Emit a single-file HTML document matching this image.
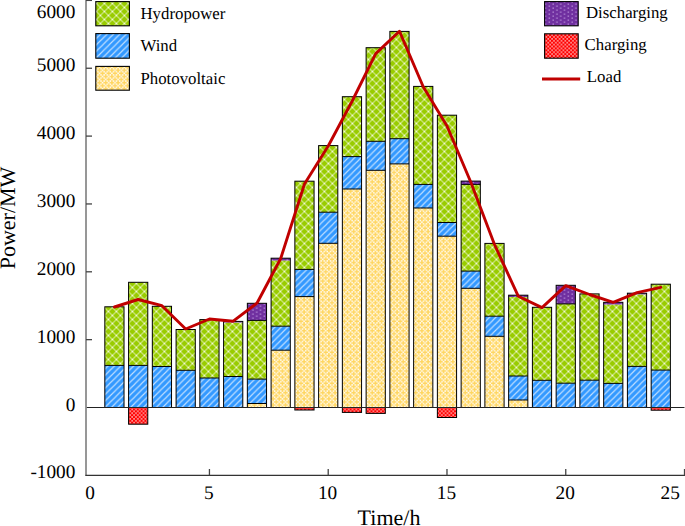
<!DOCTYPE html>
<html><head><meta charset="utf-8"><style>
html,body{margin:0;padding:0;background:#fff;}
svg{display:block;}
text{font-family:"Liberation Serif",serif;fill:#000;text-rendering:geometricPrecision;}
</style></head><body>
<svg width="685" height="526" viewBox="0 0 685 526" shape-rendering="auto">
<defs>
<pattern id="pH" width="8" height="8" patternUnits="userSpaceOnUse" x="4.4" y="7.5">
<rect width="8" height="8" fill="#99CC00"/>
<path d="M0 0L8 8M8 0L0 8" stroke="#F4FAE0" stroke-width="0.95" fill="none"/>
</pattern>
<pattern id="pW" width="6.4" height="6.4" patternUnits="userSpaceOnUse" x="0.4" y="0">
<rect width="6.4" height="6.4" fill="#3399FF"/>
<path d="M-1 1L1 -1M0 6.4L6.4 0M5.4 7.4L7.4 5.4" stroke="#C2E0FF" stroke-width="1.15" fill="none"/>
</pattern>
<pattern id="pPV" width="6.2" height="6.2" patternUnits="userSpaceOnUse" x="0.3" y="0.5">
<rect width="6.2" height="6.2" fill="#FFD660"/>
<g fill="#FFFFFF"><rect x="0.800" y="-0.750" width="1.5" height="1.5"/><rect x="3.900" y="-0.750" width="1.5" height="1.5"/><rect x="0.800" y="2.350" width="1.5" height="1.5"/><rect x="3.900" y="2.350" width="1.5" height="1.5"/><rect x="2.350" y="0.800" width="1.5" height="1.5"/><rect x="-0.750" y="3.900" width="1.5" height="1.5"/><rect x="5.450" y="3.900" width="1.5" height="1.5"/><rect x="0.800" y="5.450" width="1.5" height="1.5"/><rect x="3.900" y="5.450" width="1.5" height="1.5"/></g>
</pattern>
<pattern id="pD" width="7.6" height="4" patternUnits="userSpaceOnUse" x="1" y="1">
<rect width="7.6" height="4" fill="#7030A0"/>
<rect x="0.5" y="0.5" width="1.3" height="1.3" fill="#B990DA"/>
<rect x="4.3" y="2.5" width="1.3" height="1.3" fill="#B990DA"/>
</pattern>
<pattern id="pC" width="3.8" height="3.8" patternUnits="userSpaceOnUse">
<rect width="3.8" height="3.8" fill="#FF0000"/>
<rect x="0.2" y="0.3" width="1.7" height="1.2" fill="#FFD8D8"/>
<rect x="2.1" y="2.2" width="1.7" height="1.2" fill="#FFD8D8"/>
</pattern>
</defs>
<!-- bars -->
<g>
<rect x="104.82" y="365.40" width="19.2" height="42.10" fill="url(#pW)"/>
<rect x="104.82" y="306.80" width="19.2" height="58.60" fill="url(#pH)"/>
<rect x="128.58" y="365.40" width="19.2" height="42.10" fill="url(#pW)"/>
<rect x="128.58" y="282.30" width="19.2" height="83.10" fill="url(#pH)"/>
<rect x="128.58" y="407.50" width="19.2" height="16.70" fill="url(#pC)"/>
<rect x="152.33" y="366.50" width="19.2" height="41.00" fill="url(#pW)"/>
<rect x="152.33" y="306.30" width="19.2" height="60.20" fill="url(#pH)"/>
<rect x="176.09" y="370.30" width="19.2" height="37.20" fill="url(#pW)"/>
<rect x="176.09" y="329.50" width="19.2" height="40.80" fill="url(#pH)"/>
<rect x="199.84" y="378.00" width="19.2" height="29.50" fill="url(#pW)"/>
<rect x="199.84" y="319.60" width="19.2" height="58.40" fill="url(#pH)"/>
<rect x="223.59" y="376.50" width="19.2" height="31.00" fill="url(#pW)"/>
<rect x="223.59" y="322.50" width="19.2" height="54.00" fill="url(#pH)"/>
<rect x="223.59" y="321.40" width="19.2" height="1.10" fill="url(#pD)"/>
<rect x="247.35" y="403.50" width="19.2" height="4.00" fill="url(#pPV)"/>
<rect x="247.35" y="379.10" width="19.2" height="24.40" fill="url(#pW)"/>
<rect x="247.35" y="320.40" width="19.2" height="58.70" fill="url(#pH)"/>
<rect x="247.35" y="303.30" width="19.2" height="17.10" fill="url(#pD)"/>
<rect x="271.10" y="350.20" width="19.2" height="57.30" fill="url(#pPV)"/>
<rect x="271.10" y="326.20" width="19.2" height="24.00" fill="url(#pW)"/>
<rect x="271.10" y="260.50" width="19.2" height="65.70" fill="url(#pH)"/>
<rect x="271.10" y="258.20" width="19.2" height="2.30" fill="url(#pD)"/>
<rect x="294.86" y="296.60" width="19.2" height="110.90" fill="url(#pPV)"/>
<rect x="294.86" y="269.40" width="19.2" height="27.20" fill="url(#pW)"/>
<rect x="294.86" y="181.20" width="19.2" height="88.20" fill="url(#pH)"/>
<rect x="294.86" y="407.50" width="19.2" height="2.50" fill="url(#pC)"/>
<rect x="318.61" y="243.30" width="19.2" height="164.20" fill="url(#pPV)"/>
<rect x="318.61" y="212.20" width="19.2" height="31.10" fill="url(#pW)"/>
<rect x="318.61" y="145.60" width="19.2" height="66.60" fill="url(#pH)"/>
<rect x="342.36" y="189.00" width="19.2" height="218.50" fill="url(#pPV)"/>
<rect x="342.36" y="156.60" width="19.2" height="32.40" fill="url(#pW)"/>
<rect x="342.36" y="96.70" width="19.2" height="59.90" fill="url(#pH)"/>
<rect x="342.36" y="407.50" width="19.2" height="4.90" fill="url(#pC)"/>
<rect x="366.12" y="170.30" width="19.2" height="237.20" fill="url(#pPV)"/>
<rect x="366.12" y="141.30" width="19.2" height="29.00" fill="url(#pW)"/>
<rect x="366.12" y="47.70" width="19.2" height="93.60" fill="url(#pH)"/>
<rect x="366.12" y="407.50" width="19.2" height="5.90" fill="url(#pC)"/>
<rect x="389.87" y="163.90" width="19.2" height="243.60" fill="url(#pPV)"/>
<rect x="389.87" y="138.70" width="19.2" height="25.20" fill="url(#pW)"/>
<rect x="389.87" y="31.40" width="19.2" height="107.30" fill="url(#pH)"/>
<rect x="413.63" y="208.00" width="19.2" height="199.50" fill="url(#pPV)"/>
<rect x="413.63" y="184.40" width="19.2" height="23.60" fill="url(#pW)"/>
<rect x="413.63" y="86.40" width="19.2" height="98.00" fill="url(#pH)"/>
<rect x="437.38" y="236.20" width="19.2" height="171.30" fill="url(#pPV)"/>
<rect x="437.38" y="222.50" width="19.2" height="13.70" fill="url(#pW)"/>
<rect x="437.38" y="115.20" width="19.2" height="107.30" fill="url(#pH)"/>
<rect x="437.38" y="407.50" width="19.2" height="10.00" fill="url(#pC)"/>
<rect x="461.13" y="288.30" width="19.2" height="119.20" fill="url(#pPV)"/>
<rect x="461.13" y="271.10" width="19.2" height="17.20" fill="url(#pW)"/>
<rect x="461.13" y="184.40" width="19.2" height="86.70" fill="url(#pH)"/>
<rect x="461.13" y="181.10" width="19.2" height="3.30" fill="url(#pD)"/>
<rect x="484.89" y="336.30" width="19.2" height="71.20" fill="url(#pPV)"/>
<rect x="484.89" y="316.20" width="19.2" height="20.10" fill="url(#pW)"/>
<rect x="484.89" y="243.40" width="19.2" height="72.80" fill="url(#pH)"/>
<rect x="508.64" y="400.00" width="19.2" height="7.50" fill="url(#pPV)"/>
<rect x="508.64" y="376.00" width="19.2" height="24.00" fill="url(#pW)"/>
<rect x="508.64" y="297.00" width="19.2" height="79.00" fill="url(#pH)"/>
<rect x="508.64" y="295.20" width="19.2" height="1.80" fill="url(#pD)"/>
<rect x="532.40" y="380.30" width="19.2" height="27.20" fill="url(#pW)"/>
<rect x="532.40" y="307.30" width="19.2" height="73.00" fill="url(#pH)"/>
<rect x="556.15" y="383.20" width="19.2" height="24.30" fill="url(#pW)"/>
<rect x="556.15" y="303.90" width="19.2" height="79.30" fill="url(#pH)"/>
<rect x="556.15" y="285.30" width="19.2" height="18.60" fill="url(#pD)"/>
<rect x="579.90" y="380.20" width="19.2" height="27.30" fill="url(#pW)"/>
<rect x="579.90" y="293.90" width="19.2" height="86.30" fill="url(#pH)"/>
<rect x="603.66" y="383.40" width="19.2" height="24.10" fill="url(#pW)"/>
<rect x="603.66" y="304.50" width="19.2" height="78.90" fill="url(#pH)"/>
<rect x="603.66" y="302.30" width="19.2" height="2.20" fill="url(#pD)"/>
<rect x="627.41" y="366.40" width="19.2" height="41.10" fill="url(#pW)"/>
<rect x="627.41" y="294.40" width="19.2" height="72.00" fill="url(#pH)"/>
<rect x="627.41" y="293.20" width="19.2" height="1.20" fill="url(#pD)"/>
<rect x="651.17" y="370.10" width="19.2" height="37.40" fill="url(#pW)"/>
<rect x="651.17" y="284.20" width="19.2" height="85.90" fill="url(#pH)"/>
<rect x="651.17" y="407.50" width="19.2" height="2.70" fill="url(#pC)"/>
</g>
<g fill="none" stroke="#000" stroke-width="1">
<rect x="104.82" y="306.80" width="19.2" height="100.70"/>
<line x1="104.82" y1="365.40" x2="124.02" y2="365.40"/>
<rect x="128.58" y="282.30" width="19.2" height="125.20"/>
<line x1="128.58" y1="365.40" x2="147.78" y2="365.40"/>
<rect x="128.58" y="407.50" width="19.2" height="16.70"/>
<rect x="152.33" y="306.30" width="19.2" height="101.20"/>
<line x1="152.33" y1="366.50" x2="171.53" y2="366.50"/>
<rect x="176.09" y="329.50" width="19.2" height="78.00"/>
<line x1="176.09" y1="370.30" x2="195.29" y2="370.30"/>
<rect x="199.84" y="319.60" width="19.2" height="87.90"/>
<line x1="199.84" y1="378.00" x2="219.04" y2="378.00"/>
<rect x="223.59" y="321.40" width="19.2" height="86.10"/>
<line x1="223.59" y1="376.50" x2="242.79" y2="376.50"/>
<rect x="247.35" y="303.30" width="19.2" height="104.20"/>
<line x1="247.35" y1="403.50" x2="266.55" y2="403.50"/>
<line x1="247.35" y1="379.10" x2="266.55" y2="379.10"/>
<line x1="247.35" y1="320.40" x2="266.55" y2="320.40"/>
<rect x="271.10" y="258.20" width="19.2" height="149.30"/>
<line x1="271.10" y1="350.20" x2="290.30" y2="350.20"/>
<line x1="271.10" y1="326.20" x2="290.30" y2="326.20"/>
<rect x="294.86" y="181.20" width="19.2" height="226.30"/>
<line x1="294.86" y1="296.60" x2="314.06" y2="296.60"/>
<line x1="294.86" y1="269.40" x2="314.06" y2="269.40"/>
<rect x="294.86" y="407.50" width="19.2" height="2.50"/>
<rect x="318.61" y="145.60" width="19.2" height="261.90"/>
<line x1="318.61" y1="243.30" x2="337.81" y2="243.30"/>
<line x1="318.61" y1="212.20" x2="337.81" y2="212.20"/>
<rect x="342.36" y="96.70" width="19.2" height="310.80"/>
<line x1="342.36" y1="189.00" x2="361.56" y2="189.00"/>
<line x1="342.36" y1="156.60" x2="361.56" y2="156.60"/>
<rect x="342.36" y="407.50" width="19.2" height="4.90"/>
<rect x="366.12" y="47.70" width="19.2" height="359.80"/>
<line x1="366.12" y1="170.30" x2="385.32" y2="170.30"/>
<line x1="366.12" y1="141.30" x2="385.32" y2="141.30"/>
<rect x="366.12" y="407.50" width="19.2" height="5.90"/>
<rect x="389.87" y="31.40" width="19.2" height="376.10"/>
<line x1="389.87" y1="163.90" x2="409.07" y2="163.90"/>
<line x1="389.87" y1="138.70" x2="409.07" y2="138.70"/>
<rect x="413.63" y="86.40" width="19.2" height="321.10"/>
<line x1="413.63" y1="208.00" x2="432.83" y2="208.00"/>
<line x1="413.63" y1="184.40" x2="432.83" y2="184.40"/>
<rect x="437.38" y="115.20" width="19.2" height="292.30"/>
<line x1="437.38" y1="236.20" x2="456.58" y2="236.20"/>
<line x1="437.38" y1="222.50" x2="456.58" y2="222.50"/>
<rect x="437.38" y="407.50" width="19.2" height="10.00"/>
<rect x="461.13" y="181.10" width="19.2" height="226.40"/>
<line x1="461.13" y1="288.30" x2="480.33" y2="288.30"/>
<line x1="461.13" y1="271.10" x2="480.33" y2="271.10"/>
<line x1="461.13" y1="184.40" x2="480.33" y2="184.40"/>
<rect x="484.89" y="243.40" width="19.2" height="164.10"/>
<line x1="484.89" y1="336.30" x2="504.09" y2="336.30"/>
<line x1="484.89" y1="316.20" x2="504.09" y2="316.20"/>
<rect x="508.64" y="295.20" width="19.2" height="112.30"/>
<line x1="508.64" y1="400.00" x2="527.84" y2="400.00"/>
<line x1="508.64" y1="376.00" x2="527.84" y2="376.00"/>
<rect x="532.40" y="307.30" width="19.2" height="100.20"/>
<line x1="532.40" y1="380.30" x2="551.60" y2="380.30"/>
<rect x="556.15" y="285.30" width="19.2" height="122.20"/>
<line x1="556.15" y1="383.20" x2="575.35" y2="383.20"/>
<line x1="556.15" y1="303.90" x2="575.35" y2="303.90"/>
<rect x="579.90" y="293.90" width="19.2" height="113.60"/>
<line x1="579.90" y1="380.20" x2="599.10" y2="380.20"/>
<rect x="603.66" y="302.30" width="19.2" height="105.20"/>
<line x1="603.66" y1="383.40" x2="622.86" y2="383.40"/>
<rect x="627.41" y="293.20" width="19.2" height="114.30"/>
<line x1="627.41" y1="366.40" x2="646.61" y2="366.40"/>
<rect x="651.17" y="284.20" width="19.2" height="123.30"/>
<line x1="651.17" y1="370.10" x2="670.37" y2="370.10"/>
<rect x="651.17" y="407.50" width="19.2" height="2.70"/>
</g>
<!-- zero line -->
<line x1="86" y1="407.5" x2="684.5" y2="407.5" stroke="#222" stroke-width="1.0"/>
<!-- load -->
<polyline points="114.42,307.00 138.18,299.50 161.93,305.70 185.69,329.00 209.44,319.00 233.19,321.20 256.95,303.20 280.70,258.50 304.46,184.00 328.21,146.00 351.96,101.50 375.72,53.60 399.47,31.20 423.23,86.80 446.98,126.00 470.73,182.00 494.49,244.50 518.24,296.20 542.00,307.60 565.75,285.60 589.50,294.50 613.26,302.30 637.01,292.60 660.77,287.30" fill="none" stroke="#C00000" stroke-width="2.9" stroke-linejoin="round" stroke-linecap="round"/>
<!-- axes -->
<line x1="86" y1="0" x2="86" y2="476" stroke="#8C8C8C" stroke-width="1.8"/>
<line x1="85.5" y1="475.4" x2="685" y2="475.4" stroke="#333" stroke-width="1.4"/>
<g stroke="#444" stroke-width="1.3">
<line x1="86" y1="339.65" x2="92" y2="339.65"/>
<line x1="86" y1="271.80" x2="92" y2="271.80"/>
<line x1="86" y1="203.95" x2="92" y2="203.95"/>
<line x1="86" y1="136.10" x2="92" y2="136.10"/>
<line x1="86" y1="68.25" x2="92" y2="68.25"/>
<line x1="86" y1="0.40" x2="92" y2="0.40"/>
<line x1="209.44" y1="469" x2="209.44" y2="475.3"/>
<line x1="328.21" y1="469" x2="328.21" y2="475.3"/>
<line x1="446.98" y1="469" x2="446.98" y2="475.3"/>
<line x1="565.75" y1="469" x2="565.75" y2="475.3"/>
<line x1="684.52" y1="469" x2="684.52" y2="475.3"/>
</g>
<g font-size="19.3">
<text x="75.4" y="478.45" text-anchor="end">-1000</text>
<text x="75.4" y="410.60" text-anchor="end">0</text>
<text x="75.4" y="342.75" text-anchor="end">1000</text>
<text x="75.4" y="274.90" text-anchor="end">2000</text>
<text x="75.4" y="207.05" text-anchor="end">3000</text>
<text x="75.4" y="139.20" text-anchor="end">4000</text>
<text x="75.4" y="71.35" text-anchor="end">5000</text>
<text x="75.4" y="18.40" text-anchor="end">6000</text>
<text x="90.07" y="498.8" text-anchor="middle">0</text>
<text x="208.84" y="498.8" text-anchor="middle">5</text>
<text x="327.61" y="498.8" text-anchor="middle">10</text>
<text x="446.38" y="498.8" text-anchor="middle">15</text>
<text x="565.15" y="498.8" text-anchor="middle">20</text>
<text x="670.20" y="498.8" text-anchor="middle">25</text>
</g>
<text x="389" y="525" text-anchor="middle" font-size="22">Time/h</text>
<text transform="translate(14.9,218) rotate(-90)" text-anchor="middle" font-size="22">Power/MW</text>
<!-- legend left -->
<g stroke="#000" stroke-width="1.1">
<rect x="95.8" y="1.6" width="33.6" height="24.2" fill="url(#pH)"/>
<rect x="95.8" y="33.6" width="33.6" height="24.6" fill="url(#pW)"/>
<rect x="95.8" y="66.4" width="33.6" height="23.8" fill="url(#pPV)"/>
<rect x="544.6" y="1.6" width="33.6" height="24.2" fill="url(#pD)"/>
<rect x="544.6" y="33.8" width="33.6" height="24.4" fill="url(#pC)"/>
</g>
<line x1="542" y1="79" x2="580.2" y2="79" stroke="#C00000" stroke-width="3.2"/>
<g font-size="16.8">
<text x="140.5" y="18.8">Hydropower</text>
<text x="140.5" y="51.4">Wind</text>
<text x="140.5" y="83.9">Photovoltaic</text>
<text x="586" y="18">Discharging</text>
<text x="584.6" y="49.7">Charging</text>
<text x="586.8" y="82.2">Load</text>
</g>
</svg>
</body></html>
